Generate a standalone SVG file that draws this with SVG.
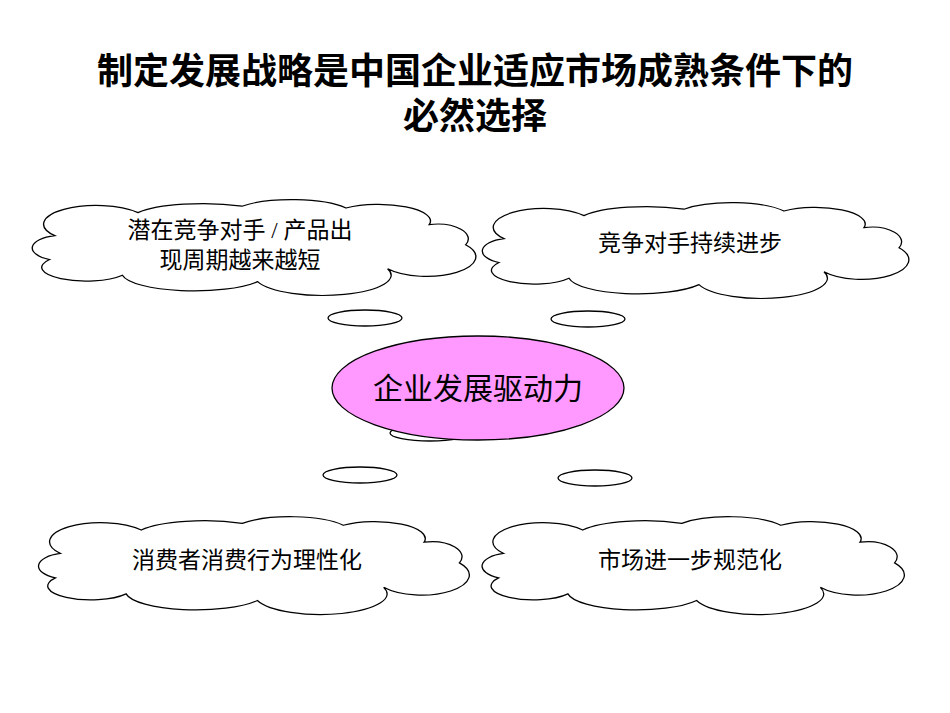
<svg xmlns="http://www.w3.org/2000/svg" xmlns:xlink="http://www.w3.org/1999/xlink" width="950" height="713" viewBox="0 0 950 713">
<style>
.cl{fill:#fff;stroke:#000;stroke-width:1.3}
.t{font-family:"Liberation Serif","Noto Sans CJK SC",serif;font-size:23px;text-anchor:middle;fill:#000}
.h{font-family:"Liberation Sans","Noto Sans CJK SC",sans-serif;font-size:36px;font-weight:bold;text-anchor:middle}
.e{fill:#fff;stroke:#000;stroke-width:1.3}
</style>
<defs>
<path id="cloud" d="M 45,42 A 40 16 0 0 1 125,17 A 70 18 0 0 1 225,10 A 60 18 0 0 1 325,12 A 50 18 0 0 1 405,30 A 30 16 0 0 1 440,52 A 40 18 0 0 1 365,78 A 60 20 0 0 1 240,92 A 70 20 0 0 1 110,85 A 40 14 0 0 1 40,68 A 30 14 0 0 1 45,42 Z"/>
</defs>
<text class="h" x="475" y="84">制定发展战略是中国企业适应市场成熟条件下的</text>
<text class="h" x="475" y="129">必然选择</text>
<g id="connectors">
<ellipse class="e" cx="365" cy="318" rx="37" ry="8"/>
<ellipse class="e" cx="588" cy="319" rx="37" ry="8"/>
<ellipse class="e" cx="430" cy="433" rx="40" ry="8"/>
<ellipse class="e" cx="360" cy="475" rx="37" ry="8"/>
<ellipse class="e" cx="595" cy="478" rx="37" ry="8"/>
</g>
<g id="n1"><use href="#cloud" class="cl" transform="translate(8,197) scale(1.04,0.92)"/>
<text class="t" x="240" y="238">潜在竞争对手 / 产品出</text><text class="t" x="240" y="268">现周期越来越短</text></g>
<g id="n2"><use href="#cloud" class="cl" transform="translate(459,200) scale(1.0,0.92)"/>
<text class="t" x="690" y="251">竞争对手持续进步</text></g>
<g id="n3"><use href="#cloud" class="cl" transform="translate(15,514) scale(1.01,0.94)"/>
<text class="t" x="247" y="568">消费者消费行为理性化</text></g>
<g id="n4"><use href="#cloud" class="cl" transform="translate(459,514) scale(0.99,0.94)"/>
<text class="t" x="690" y="568">市场进一步规范化</text></g>
<g id="center"><ellipse cx="478" cy="388" rx="146" ry="52" fill="#FF99FF" stroke="#000" stroke-width="1.3"/>
<text class="t" x="478" y="399" style="font-size:30px">企业发展驱动力</text></g>
</svg>
